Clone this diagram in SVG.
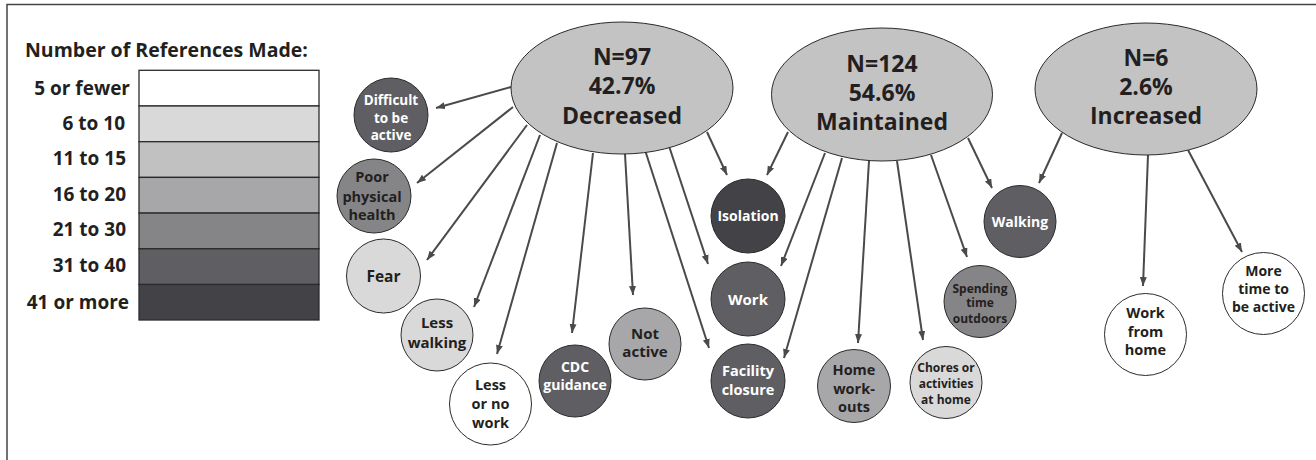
<svg xmlns="http://www.w3.org/2000/svg" width="1316" height="460" viewBox="0 0 1316 460">
<defs>
<marker id="ah" markerUnits="userSpaceOnUse" markerWidth="10" markerHeight="8" refX="9" refY="3.5" orient="auto">
<path d="M0,0 L9,3.5 L0,7 z" fill="#4a494c"/>
</marker>
</defs>
<style>
text{font-family:"Open Sans","Liberation Sans",sans-serif;font-weight:700;fill:#231f20}
.c text{text-anchor:middle}
.w text{fill:#ffffff}
.lg{font-size:19px}
.ttl{font-size:19.5px}
.lbl{text-anchor:end}
.big text{font-size:23px}
.ell{fill:#c3c3c4;stroke:#2b2b2b;stroke-width:1}
.nd{stroke:#2b2b2b;stroke-width:1}
.s0{fill:#ffffff}.s1{fill:#d9d9d9}.s2{fill:#c1c1c2}.s3{fill:#a7a6a8}.s4{fill:#858487}.s5{fill:#5f5e62}.s6{fill:#434246}
.leg{stroke:#2b2b2b;stroke-width:1.3}
#connectors line{stroke:#4a494c;stroke-width:2;marker-end:url(#ah)}
</style>
<rect width="1316" height="460" fill="#ffffff"/>
<path d="M7,460 V4.5 H1316" fill="none" stroke="#444" stroke-width="1.5"/>
<g id="legend">
<text x="25" y="57" class="ttl">Number of References Made:</text>
<rect class="leg s0" x="139" y="70.3" width="180" height="35.7"/>
<rect class="leg s1" x="139" y="106" width="180" height="35.7"/>
<rect class="leg s2" x="139" y="141.7" width="180" height="35.7"/>
<rect class="leg s3" x="139" y="177.4" width="180" height="35.7"/>
<rect class="leg s4" x="139" y="213.1" width="180" height="35.7"/>
<rect class="leg s5" x="139" y="248.8" width="180" height="35.7"/>
<rect class="leg s6" x="139" y="284.5" width="180" height="35.5"/>
<text class="lg lbl" x="130" y="95">5 or fewer</text>
<text class="lg lbl" x="125" y="130">6 to 10</text>
<text class="lg lbl" x="126" y="165">11 to 15</text>
<text class="lg lbl" x="126" y="200.5">16 to 20</text>
<text class="lg lbl" x="126" y="236">21 to 30</text>
<text class="lg lbl" x="126" y="271.5">31 to 40</text>
<text class="lg lbl" x="129" y="309">41 or more</text>
</g>
<g id="connectors">
<line x1="511" y1="87" x2="436" y2="108"/>
<line x1="513" y1="107" x2="417" y2="183"/>
<line x1="527" y1="125" x2="427" y2="260"/>
<line x1="540" y1="135" x2="474" y2="307"/>
<line x1="557" y1="143" x2="497" y2="354"/>
<line x1="593" y1="153" x2="572" y2="333"/>
<line x1="625" y1="154" x2="633" y2="295"/>
<line x1="645" y1="150" x2="709" y2="348"/>
<line x1="668" y1="143" x2="708" y2="264"/>
<line x1="707" y1="132" x2="727" y2="175"/>
<line x1="788" y1="132" x2="767" y2="175"/>
<line x1="825" y1="153" x2="781" y2="266"/>
<line x1="842" y1="158" x2="784" y2="358"/>
<line x1="869" y1="161" x2="858" y2="343"/>
<line x1="897" y1="161" x2="923" y2="340"/>
<line x1="931" y1="155" x2="967" y2="257"/>
<line x1="968" y1="138" x2="992" y2="188"/>
<line x1="1062" y1="133" x2="1039" y2="183"/>
<line x1="1148" y1="155" x2="1143" y2="286"/>
<line x1="1188" y1="150" x2="1242" y2="252"/>
</g>
<g id="decreased" class="c big">
<ellipse class="ell" cx="622" cy="88" rx="111" ry="66"/>
<text x="622" y="65">N=97</text>
<text x="622" y="94">42.7%</text>
<text x="622" y="124">Decreased</text>
</g>
<g id="maintained" class="c big">
<ellipse class="ell" cx="882" cy="94.5" rx="110.5" ry="66.5"/>
<text x="882" y="72">N=124</text>
<text x="882" y="101">54.6%</text>
<text x="882" y="130">Maintained</text>
</g>
<g id="increased" class="c big">
<ellipse class="ell" cx="1146" cy="89" rx="111" ry="66"/>
<text x="1146" y="66">N=6</text>
<text x="1146" y="95">2.6%</text>
<text x="1146" y="124">Increased</text>
</g>
<g id="difficult" class="c w" font-size="13.5">
<circle class="nd s5" cx="391" cy="115" r="37"/>
<text x="391" y="105">Difficult</text>
<text x="391" y="122.5">to be</text>
<text x="391" y="140">active</text>
</g>
<g id="poor-health" class="c" font-size="14.5">
<circle class="nd s4" cx="374" cy="196" r="37"/>
<text x="372" y="181.5">Poor</text>
<text x="372" y="201.5">physical</text>
<text x="372" y="219.5">health</text>
</g>
<g id="fear" class="c" font-size="15.5">
<circle class="nd s1" cx="383.5" cy="276" r="37"/>
<text x="383.5" y="282">Fear</text>
</g>
<g id="less-walking" class="c" font-size="15">
<circle class="nd s1" cx="437" cy="335" r="36"/>
<text x="437" y="328">Less</text>
<text x="437" y="348">walking</text>
</g>
<g id="less-work" class="c" font-size="14.5">
<circle class="nd s0" cx="490.5" cy="404" r="41"/>
<text x="490.5" y="390">Less</text>
<text x="490.5" y="409">or no</text>
<text x="490.5" y="428">work</text>
</g>
<g id="cdc" class="c w" font-size="14">
<circle class="nd s5" cx="575" cy="381" r="36"/>
<text x="575" y="372">CDC</text>
<text x="575" y="390">guidance</text>
</g>
<g id="not-active" class="c" font-size="15">
<circle class="nd s3" cx="645" cy="344" r="36"/>
<text x="645" y="339">Not</text>
<text x="645" y="357">active</text>
</g>
<g id="isolation" class="c w" font-size="14">
<circle class="nd s6" cx="748" cy="216" r="37"/>
<text x="748" y="221">Isolation</text>
</g>
<g id="work" class="c w" font-size="15">
<circle class="nd s5" cx="748" cy="299" r="37"/>
<text x="748" y="305">Work</text>
</g>
<g id="facility" class="c w" font-size="14.5">
<circle class="nd s5" cx="748" cy="381" r="37"/>
<text x="748" y="376">Facility</text>
<text x="748" y="395">closure</text>
</g>
<g id="home-workouts" class="c" font-size="14.5">
<circle class="nd s3" cx="854" cy="386" r="36.5"/>
<text x="854" y="375">Home</text>
<text x="854" y="394">work-</text>
<text x="854" y="412">outs</text>
</g>
<g id="chores" class="c" font-size="12">
<circle class="nd s1" cx="946" cy="382.5" r="36"/>
<text x="946" y="371.5">Chores or</text>
<text x="946" y="388">activities</text>
<text x="946" y="404">at home</text>
</g>
<g id="outdoors" class="c" font-size="12">
<circle class="nd s4" cx="980" cy="301.5" r="36"/>
<text x="980" y="292.5">Spending</text>
<text x="980" y="307">time</text>
<text x="980" y="322.5">outdoors</text>
</g>
<g id="walking" class="c w" font-size="14">
<circle class="nd s5" cx="1020" cy="221.5" r="36"/>
<text x="1020" y="226.5">Walking</text>
</g>
<g id="work-from-home" class="c" font-size="14.5">
<circle class="nd s0" cx="1145.5" cy="334.5" r="41"/>
<text x="1145.5" y="318">Work</text>
<text x="1145.5" y="336.5">from</text>
<text x="1145.5" y="355">home</text>
</g>
<g id="more-time" class="c" font-size="14">
<circle class="nd s0" cx="1263.5" cy="293.5" r="41"/>
<text x="1263.5" y="275.5">More</text>
<text x="1263.5" y="294">time to</text>
<text x="1263.5" y="312">be active</text>
</g>
</svg>
